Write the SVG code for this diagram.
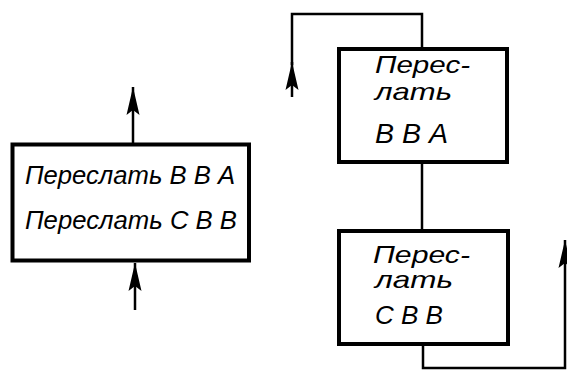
<svg xmlns="http://www.w3.org/2000/svg" width="567" height="374" viewBox="0 0 567 374">
<defs>
<style>
.box{fill:#fff;stroke:#000;stroke-width:4}
.ln{fill:none;stroke:#000;stroke-width:2.5}
text{font-family:"Liberation Sans","DejaVu Sans",sans-serif;font-style:italic;fill:#000}
.t1{font-size:25px}
.t2{font-size:24px}
</style>
<marker id="ah" markerUnits="userSpaceOnUse" markerWidth="32" markerHeight="16" refX="28" refY="8" orient="auto" viewBox="0 0 32 16">
<path d="M0,1.5 L28,8 L0,14.5 L5,8 z" fill="#000"/>
</marker>
</defs>
<rect width="567" height="374" fill="#fff"/>
<g id="connectors">
<line class="ln" x1="133" y1="143" x2="133" y2="87" marker-end="url(#ah)"/>
<line class="ln" x1="135" y1="310" x2="135" y2="263" marker-end="url(#ah)"/>
<line class="ln" x1="292" y1="97" x2="292" y2="62" marker-end="url(#ah)"/>
<polyline class="ln" points="292,65 292,14 422,14 422,47"/>
<line class="ln" x1="422" y1="162" x2="422" y2="230"/>
<polyline class="ln" points="423,345 423,368 565,368 565,240" marker-end="url(#ah)"/>
</g>
<g id="node-left">
<rect class="box" x="12.5" y="144.5" width="236.5" height="116"/>
<text class="t1" x="25" y="184" textLength="210" lengthAdjust="spacingAndGlyphs">Переслать В В А</text>
<text class="t1" x="25" y="229" textLength="212" lengthAdjust="spacingAndGlyphs">Переслать С В В</text>
</g>
<g id="node-top">
<rect class="box" x="339" y="49" width="168" height="113"/>
<text class="t2" x="375" y="73" textLength="95" lengthAdjust="spacingAndGlyphs">Перес-</text>
<text class="t2" x="375" y="100" textLength="77" lengthAdjust="spacingAndGlyphs">лать</text>
<text class="t2" x="375" y="143" textLength="73" lengthAdjust="spacingAndGlyphs" style="font-size:28px">В В А</text>
</g>
<g id="node-bottom">
<rect class="box" x="339" y="231" width="169" height="113"/>
<text class="t2" x="373" y="263" textLength="97" lengthAdjust="spacingAndGlyphs">Перес-</text>
<text class="t2" x="375" y="288" textLength="78" lengthAdjust="spacingAndGlyphs">лать</text>
<text class="t2" x="375" y="324" textLength="68" lengthAdjust="spacingAndGlyphs" style="font-size:26px">С В В</text>
</g>
</svg>
